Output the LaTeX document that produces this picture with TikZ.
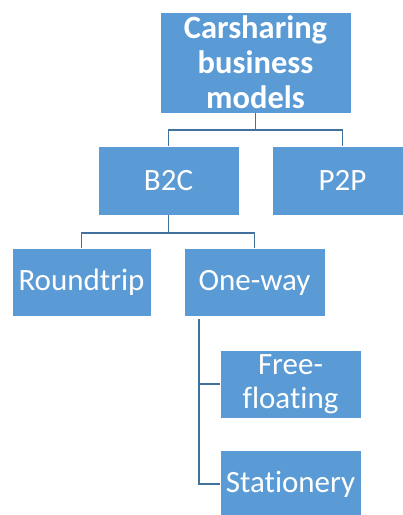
\documentclass[tikz,border=0pt]{standalone}
\usepackage{fontspec}
\setmainfont{Carlito}[Ligatures=NoCommon]
\definecolor{boxblue}{HTML}{5B9BD5}
\definecolor{linkblue}{HTML}{41719C}
\tikzset{
  orgbox/.style={fill=boxblue, draw=white, line width=0.6pt, text=white,
    align=center, inner sep=0pt, minimum width=141pt, minimum height=68pt,
    font=\fontsize{31}{34}\selectfont},
  orglink/.style={draw=linkblue, line width=1.8pt}
}
\begin{document}
\begin{tikzpicture}[x=1pt,y=-1pt]
      \useasboundingbox (0,0) rectangle (403,515);
      %% the boxes
      \node[orgbox, minimum width=191pt, minimum height=101pt, font=\fontsize{32.5}{35}\selectfont\bfseries]
        (models) at (255.5,62.5) {Carsharing\\business\\models};
      \node[orgbox, minimum height=69pt] (b2c) at (168.5,180.5) {B2C};
      \node[orgbox, minimum height=69pt] (p2p) at (342.5,180.5) {P2P};
      \node[orgbox, minimum width=139pt] (round) at (81.5,282) {Roundtrip};
      \node[orgbox] (oneway) at (254.5,282.5) {One-way};
      \node[orgbox] (free) at (290.5,384) {Free-\\floating};
      \node[orgbox] (stat) at (290.5,484) {Stationery};

      %% the links
      \draw[orglink] (models.south) -- ++(0,17) coordinate (jtop);
      \draw[orglink] (jtop) -| (b2c.north);
      \draw[orglink] (jtop) -| (p2p.north);
      \draw[orglink] (b2c.south) -- ++(0,18) coordinate (jmid);
      \draw[orglink] (jmid) -| (round.north);
      \draw[orglink] (jmid) -| (oneway.north);
      \coordinate (jlow) at ([xshift=15pt,yshift=-2pt]oneway.south west); % side rail
      \draw[orglink] (jlow) |- (free.west);
      \draw[orglink] (jlow) |- (stat.west);
    \end{tikzpicture}
\end{document}
